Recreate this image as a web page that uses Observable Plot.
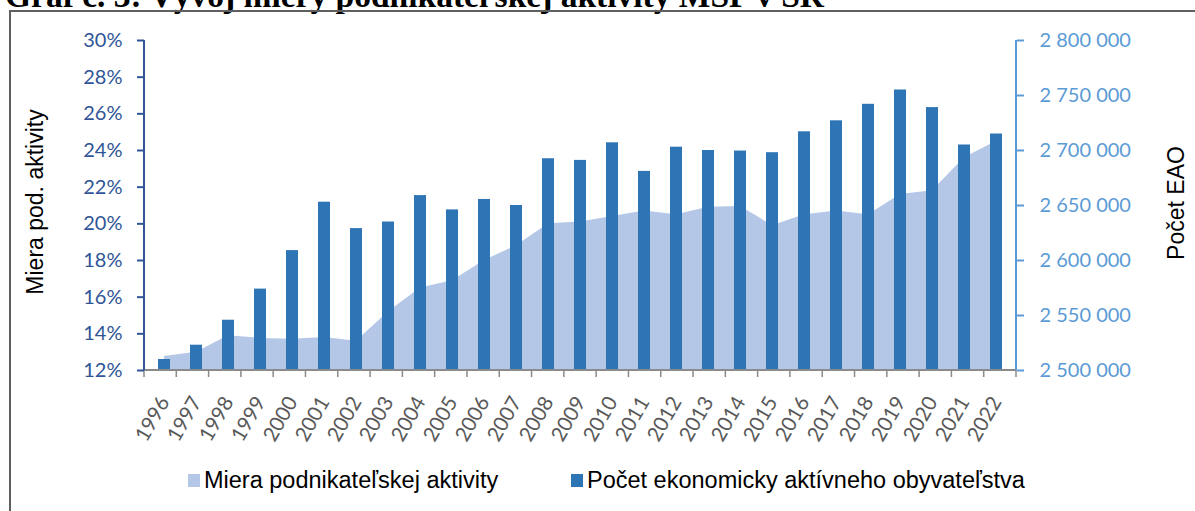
<!DOCTYPE html>
<html><head><meta charset="utf-8">
<script src="https://cdn.jsdelivr.net/npm/d3@7"></script>
<script src="https://cdn.jsdelivr.net/npm/@observablehq/plot@0.6"></script>
<style>
html,body{margin:0;padding:0;background:#fff;width:1195px;height:511px;overflow:hidden;}
#wrap{position:relative;width:1195px;height:511px;overflow:hidden;}
#title{position:absolute;left:5px;top:-21px;font:bold 33.5px/33px "Liberation Serif",serif;white-space:nowrap;color:#000;}
#frame{position:absolute;left:9px;top:10px;width:1400px;height:700px;border:2px solid #5f5f5f;box-sizing:border-box;}
#chart{position:absolute;left:0;top:0;}
.ytitle{position:absolute;font:23px "Liberation Sans",Arial,sans-serif;color:#000;white-space:nowrap;transform:translate(-50%,-50%) rotate(-90deg);}
#legend{position:absolute;top:467px;left:0;width:1195px;height:30px;font:23.5px "Liberation Sans",Arial,sans-serif;color:#000;}
.li{position:absolute;top:0;display:flex;align-items:center;white-space:nowrap;}
.sw{display:inline-block;width:12px;height:13px;margin-right:4px;}
</style>
</head><body>
<div id="wrap">
  <div id="title">Graf č. 3: Vývoj miery podnikateľskej aktivity MSP v SR</div>
  <div id="frame"></div>
  <div id="chart"></div>
  <div class="ytitle" style="left:35px;top:202px;">Miera pod. aktivity</div>
  <div class="ytitle" style="left:1176px;top:203px;">Počet EAO</div>
  <div id="legend"></div>
</div>
<script>
// ---- data ----
const years = ["1996","1997","1998","1999","2000","2001","2002","2003","2004","2005","2006","2007","2008","2009","2010","2011","2012","2013","2014","2015","2016","2017","2018","2019","2020","2021","2022"];
const rate = [12.76, 13.0, 13.9, 13.75, 13.7, 13.8, 13.6, 15.2, 16.5, 16.9, 18.0, 18.8, 20.0, 20.1, 20.4, 20.7, 20.5, 20.9, 20.95, 19.9, 20.5, 20.7, 20.5, 21.6, 21.8, 23.6, 24.5];
const eao = [2510000, 2523000, 2545700, 2574000, 2609000, 2653000, 2629000, 2635000, 2659000, 2646000, 2655500, 2650000, 2692500, 2691000, 2707000, 2681000, 2703000, 2700000, 2699500, 2698000, 2717000, 2727000, 2742000, 2755000, 2739000, 2705000, 2715000];
const leftTicks = [12, 14, 16, 18, 20, 22, 24, 26, 28, 30];
const rightTicks = [2500000, 2550000, 2600000, 2650000, 2700000, 2750000, 2800000];
const seriesNames = ["Miera podnikateľskej aktivity", "Počet ekonomicky aktívneho obyvateľstva"];

// ---- scales mapping (right axis onto left axis) ----
const L0 = 12, L1 = 30, R0 = 2500000, R1 = 2800000;
const toPct = v => L0 + (v - R0) / (R1 - R0) * (L1 - L0);
const fromPct = p => R0 + (p - L0) / (L1 - L0) * (R1 - R0);
const fmtR = v => d3.format(",")(Math.round(v)).replace(/,/g, " ");

const rows = years.map((y, i) => ({year: y, rate: rate[i], eao: eao[i]}));

const C_AREA = "#B4C7E7", C_BAR = "#2E75B6", C_LEFT = "#2F5597", C_RIGHT = "#5B9BD5", C_GRAY = "#8a8a8a";

function axisFrame(index, scales, values, dims) {
  const {width, height, marginLeft, marginRight, marginTop, marginBottom} = dims;
  const x0 = marginLeft, x1 = width - marginRight, y0 = marginTop, y1 = height - marginBottom;
  const step = (x1 - x0) / years.length;
  const g = d3.create("svg:g");
  for (let i = 0; i <= years.length; i++) {
    g.append("line").attr("x1", x0 + i * step).attr("x2", x0 + i * step)
      .attr("y1", y1).attr("y2", y1 + 7).attr("stroke", C_GRAY).attr("stroke-width", 1.5);
  }
  g.append("line").attr("x1", x0).attr("x2", x1).attr("y1", y1).attr("y2", y1)
    .attr("stroke", C_GRAY).attr("stroke-width", 2);
  g.append("line").attr("x1", x0).attr("x2", x0).attr("y1", y0).attr("y2", y1)
    .attr("stroke", C_LEFT).attr("stroke-width", 2);
  g.append("line").attr("x1", x1).attr("x2", x1).attr("y1", y0).attr("y2", y1)
    .attr("stroke", C_RIGHT).attr("stroke-width", 2);
  return g.node();
}

const chart = Plot.plot({
  width: 1195, height: 440,
  marginLeft: 144, marginRight: 179, marginTop: 40, marginBottom: 70,
  style: {background: "transparent", overflow: "visible"},
  x: {type: "band", domain: years, paddingInner: 0.63, paddingOuter: 0.315, axis: null},
  y: {domain: [L0, L1], axis: null},
  marks: [
    Plot.areaY(rows, {x: "year", y1: L0, y2: "rate", fill: C_AREA}),
    Plot.barY(rows, {x: "year", y1: L0, y2: d => toPct(d.eao), fill: C_BAR}),
    axisFrame,
    Plot.axisY({anchor: "left", ticks: leftTicks, tickFormat: d => d + "%", tickSize: 7, tickPadding: 15,
      stroke: C_LEFT, fill: C_LEFT, strokeWidth: 2, fontSize: 20, fontFamily: "Lato", label: null}),
    Plot.axisY({anchor: "right", ticks: rightTicks.map(toPct), tickFormat: p => fmtR(fromPct(p)), tickSize: 7, tickPadding: 16,
      stroke: C_RIGHT, fill: C_RIGHT, strokeWidth: 2, fontSize: 20, fontFamily: "Lato", label: null}),
    Plot.axisX({anchor: "bottom", tickSize: 0, tickPadding: 28, tickRotate: -60, textAnchor: "end", lineAnchor: "middle",
      fill: "#595959", fontSize: 20.5, fontFamily: "Lato", label: null})
  ]
});
document.getElementById("chart").appendChild(chart);

// legend
const leg = document.getElementById("legend");
const legX = [188, 571];
const legC = [C_AREA, C_BAR];
seriesNames.forEach((n, i) => {
  const d = document.createElement("div");
  d.className = "li";
  d.style.left = legX[i] + "px";
  d.innerHTML = `<span class="sw" style="background:${legC[i]}"></span><span>${n}</span>`;
  leg.appendChild(d);
});
</script>
</body></html>
